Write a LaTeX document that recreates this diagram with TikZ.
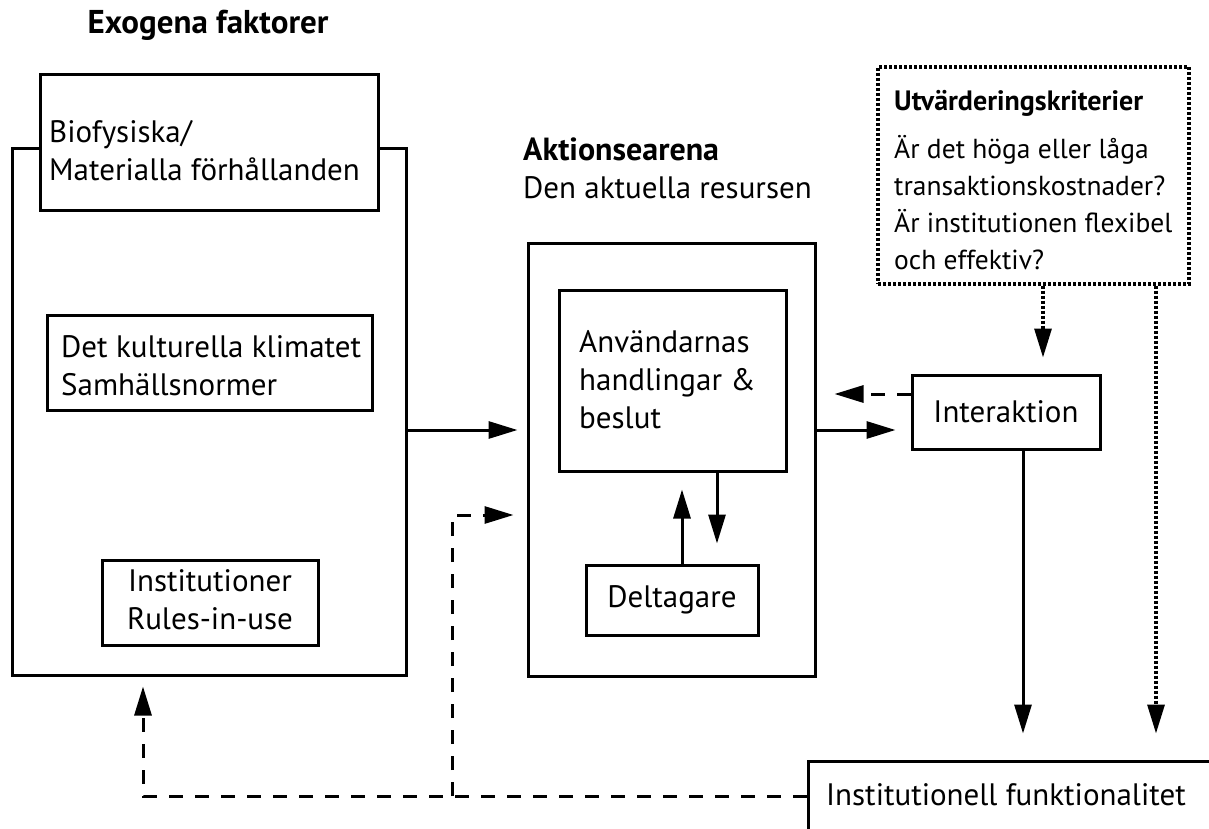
\documentclass[tikz,border=0pt]{standalone}
\usepackage{fontspec}
\setmainfont{PT Sans}
\usetikzlibrary{arrows.meta,calc}
\begin{document}
\begin{tikzpicture}[x=1pt,y=-1pt,
 box/.style={draw,line width=3pt,inner sep=0pt,fill=white},
 dotbox/.style={draw,line width=3.2pt,dash pattern=on 3pt off 2pt,inner sep=0pt},
 txt/.style={inner sep=0pt,align=left,font=\fontsize{31}{38}\selectfont},
 btxt/.style={inner sep=0pt,align=left,font=\bfseries\fontsize{33}{38}\selectfont},
 tip/.style={-{Triangle[length=29pt,width=17pt]}},
 conn/.style={line width=3pt,tip},
 dconn/.style={line width=3pt,dash pattern=on 14pt off 12pt,tip},
 oconn/.style={line width=3.2pt,dash pattern=on 3pt off 2pt,tip}]
\path[use as bounding box] (0,0) rectangle (1209,829);
\clip (0,0) rectangle (1209,829);
% boxes
\node[box,minimum width=394pt,minimum height=526pt] (exo) at (209,412) {};
\node[box,minimum width=338pt,minimum height=135pt] (bio) at (209,142.5) {};
\node[box,minimum width=325pt,minimum height=95pt] (cult) at (209.5,362.5) {};
\node[box,minimum width=216pt,minimum height=85pt] (inst) at (210,602.5) {};
\node[box,minimum width=287pt,minimum height=433pt] (akt) at (671.5,459.5) {};
\node[box,minimum width=227pt,minimum height=181pt] (anv) at (672.5,380.5) {};
\node[box,minimum width=172pt,minimum height=70pt] (delt) at (672,600) {};
\node[box,minimum width=188pt,minimum height=74pt] (inter) at (1006,412) {};
\node[dotbox,minimum width=311pt,minimum height=217pt] (utv) at (1033.5,175.5) {};
\node[box,minimum width=432pt,minimum height=100pt] (func) at (1024,811) {};
% texts
\node[btxt] (title) at (208,25) {Exogena faktorer};
\node[txt,anchor=west] (biot) at (49,151) {Biofysiska/\\Materialla förhållanden};
\node[txt,anchor=west] (cultt) at (61,366) {Det kulturella klimatet\\Samhällsnormer};
\node[txt,align=center] (instt) at (210,600) {Institutioner\\Rules-in-use};
\node[txt,anchor=west] (aktt) at (523,168) {{\bfseries\fontsize{32}{38}\selectfont Aktionsearena}\\Den aktuella resursen};
\node[txt,anchor=west] (anvt) at (579,380) {Användarnas\\handlingar \&\\beslut};
\node[txt] (deltt) at (delt) {Deltagare};
\node[txt] (intert) at (inter) {Interaktion};
\node[btxt,anchor=west,font=\bfseries\fontsize{28}{34}\selectfont] (utvh) at (894,103) {Utvärderingskriterier};
\node[txt,anchor=west,font=\fontsize{27.5}{37}\selectfont] (utvt) at (894,203) {Är det höga eller låga\\transaktionskostnader?\\Är institutionen flexibel\\och effektiv?};
\node[txt,anchor=west] (funct) at (826,795) {Institutionell funktionalitet};
% helper coordinates
\coordinate (ya) at (0,430);
\coordinate (yb) at (0,394);
\coordinate (yc) at (0,796);
\coordinate (yd) at (0,515);
\coordinate (x1) at (682,0);
\coordinate (x2) at (717,0);
\coordinate (x3) at (1023,0);
\coordinate (x4) at (1043,0);
\coordinate (x5) at (1156,0);
\coordinate (x6) at (143,0);
\coordinate (br) at (452,796);
% connectors
\draw[conn,shorten >=9pt] (exo.east|-ya) -- (akt.west|-ya);
\draw[conn,shorten >=15pt] (akt.east|-ya) -- (inter.west|-ya);
\draw[dconn,shorten >=18pt] (inter.west|-yb) -- (akt.east|-yb);
\draw[conn,shorten >=17pt] (delt.north-|x1) -- (anv.south-|x1);
\draw[conn,shorten >=20pt] (anv.south-|x2) -- (delt.north-|x2);
\draw[conn,shorten >=26pt] (inter.south-|x3) -- (func.north-|x3);
\draw[oconn,shorten >=16pt] (utv.south-|x4) -- (inter.north-|x4);
\draw[oconn,shorten >=26pt] (utv.south-|x5) -- (func.north-|x5);
\draw[dconn,shorten >=10pt] (func.west|-yc) -| (exo.south-|x6);
\draw[dconn,shorten >=13pt] (br) |- (akt.west|-yd);
\end{tikzpicture}
\end{document}
